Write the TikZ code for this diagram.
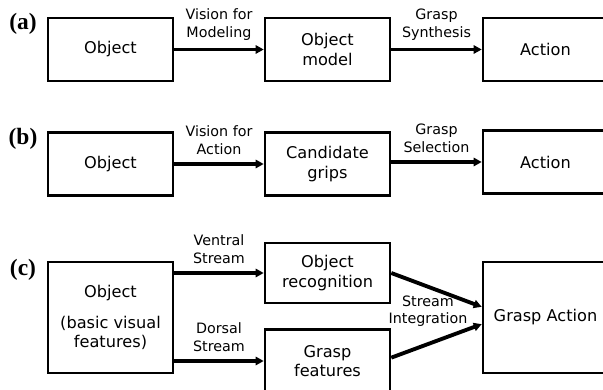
\documentclass[tikz,border=0pt]{standalone}
\usepackage{fontspec}
\setmainfont{DejaVu Sans}
\newfontfamily\tagfont{Liberation Serif}
\usetikzlibrary{arrows.meta,calc}

\begin{document}
\begin{tikzpicture}[
  box/.style={draw,line width=2.2pt,minimum width=3.75cm,minimum height=1.89cm,
    align=center,font=\fontsize{13.8}{16.5}\selectfont},
  flow/.style={line width=3.3pt,-{Triangle[length=6.8pt,width=7pt]}},
  lbl/.style={align=center,font=\fontsize{12.2}{15}\selectfont},
  tag/.style={font=\tagfont\bfseries\fontsize{20}{23}\selectfont}]
\clip (0,0) rectangle (18.09cm,11.7cm);
% (a) vision for modeling
\node[tag] (taga) at (0.69cm,10.98cm) {(a)};
\node[box] (objA) at (3.315cm,10.215cm) {Object};
\node[box] (modelA) at (9.825cm,10.215cm) {Object\\model};
\node[box] (actA) at (16.365cm,10.215cm) {Action};
\draw[flow] (objA) -- node[lbl,above=3pt] {Vision for\\Modeling} (modelA);
\draw[flow] (modelA) -- node[lbl,above=3pt] {Grasp\\Synthesis} (actA);
% (b) vision for action
\node[tag] (tagb) at (0.69cm,7.53cm) {(b)};
\node[box] (objB) at (3.315cm,6.78cm) {Object};
\node[box] (gripsB) at (9.825cm,6.78cm) {Candidate\\grips};
\node[box] (actB) at (16.365cm,6.84cm) {Action};
\draw[flow] (objB) -- node[lbl,above=3pt] {Vision for\\Action} (gripsB);
\draw[flow] (gripsB.east |- actB.west) -- node[lbl,above=3pt] {Grasp\\Selection} (actB.west);
% (c) two streams
\node[tag] (tagc) at (0.69cm,3.6cm) {(c)};
\node[box,minimum height=3.33cm] (objC) at (3.315cm,2.175cm) {Object\\[10pt](basic visual\\features)};
\node[box,minimum height=1.8cm] (recC) at (9.825cm,3.51cm) {Object\\recognition};
\node[box] (featC) at (9.825cm,0.87cm) {Grasp\\features};
\node[box,minimum height=3.33cm] (actC) at (16.365cm,2.175cm) {Grasp Action};
\draw[flow] (objC.east |- recC.west) -- node[lbl,above=3pt] {Ventral\\Stream} (recC.west);
\draw[flow] (objC.east |- featC.west) -- node[lbl,above=3pt] {Dorsal\\Stream} (featC.west);
\draw[flow] (recC.east) -- ([yshift=0.32cm]actC.west);
\draw[flow] ([yshift=0.1cm]featC.east) -- ([yshift=-0.2cm]actC.west);
\node[lbl] (integC) at (12.84cm,2.37cm) {Stream\\Integration};
\end{tikzpicture}
\end{document}
